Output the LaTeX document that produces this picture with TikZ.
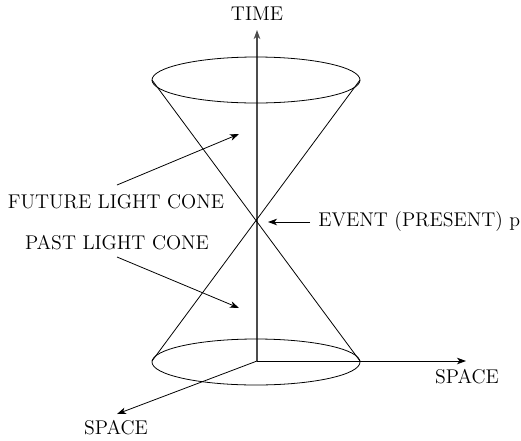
\documentclass[tikz,border=0pt]{standalone}
\usetikzlibrary{arrows.meta}
\begin{document}
\begin{tikzpicture}[x=0.02cm, y=-0.02cm,
        lbl/.style={font=\fontsize{11.3}{13}\selectfont, inner sep=0pt},
        axis/.style={-{Stealth[length=1.8mm, width=1.3mm, inset=0.5mm]}, line width=0.6pt, black!70},
        ptarr/.style={-{Stealth[length=1.8mm, width=1.3mm, inset=0.5mm]}, line width=0.45pt},
        rim/.style={line width=0.45pt}
    ]
    \useasboundingbox (0,0) rectangle (521,440);

    % === Axes ===
    \coordinate (o) at (257,361);
    \coordinate (ttip) at (257,30);
    \coordinate (xtip) at (466,361);
    \coordinate (ztip) at (117,414);
    \draw[axis] (o) -- (ttip);
    \draw[axis, black, line width=0.45pt] (o) -- (xtip);
    \draw[axis, black, line width=0.45pt] (o) -- (ztip);
    \node[lbl] (time) at (257,14) {TIME};
    \node[lbl] (sx) at (467,377) {SPACE};
    \node[lbl] (sz) at (116,428) {SPACE};

    % === Light cone ===
    \coordinate (tl) at (152,80);
    \coordinate (tr) at (360,80);
    \coordinate (bl) at (152,361);
    \coordinate (br) at (360,361);
    \draw[rim] (256,80) ellipse [x radius=104, y radius=23];
    \draw[rim] (256,362) ellipse [x radius=104, y radius=23];
    \draw[rim] (tl) -- (br);
    \draw[rim] (tr) -- (bl);

    % === Labels with arrows ===
    \node[lbl] (fut) at (116,202) {FUTURE LIGHT CONE};
    \coordinate (futtail) at (117,185);
    \coordinate (futtip) at (239,134);
    \draw[ptarr] (futtail) -- (futtip);

    \node[lbl] (past) at (117,243) {PAST LIGHT CONE};
    \coordinate (pasttail) at (117,257);
    \coordinate (pasttip) at (239,308);
    \draw[ptarr] (pasttail) -- (pasttip);

    \node[lbl, anchor=west] (ev) at (318,222) {EVENT (PRESENT) p};
    \coordinate (evtip) at (268,222);
    \draw[ptarr] ([xshift=-8*0.02cm]ev.west) -- (evtip);

\end{tikzpicture}
\end{document}
